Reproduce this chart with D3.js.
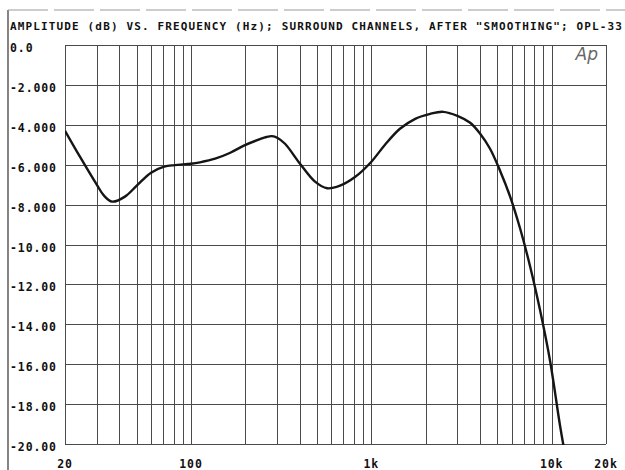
<!DOCTYPE html>
<html>
<head>
<meta charset="utf-8">
<script src="https://cdn.jsdelivr.net/npm/d3@7"></script>
<style>
  html, body { margin: 0; padding: 0; background: #ffffff; }
  svg { display: block; }
  text { font-family: "DejaVu Sans Mono", monospace; font-weight: bold; fill: #111; }
</style>
</head>
<body>
<div id="chart"></div>
<script>
// 频率 (Hz)
const freqs = [20, 24.2, 30, 32.9, 36.5, 43, 50, 60, 71, 81, 100, 112, 136, 165, 199, 241, 262, 281, 302, 332, 402, 487, 568, 670, 811, 1000, 1190, 1440, 1750, 2120, 2500, 3000, 3530, 4010, 4550, 5170, 5880, 6680, 7590, 8620, 9800, 11130, 12010]
// 幅度 (dB)
const levels = [-4.3, -5.6, -7.0, -7.55, -7.85, -7.6, -7.05, -6.4, -6.1, -6.02, -5.95, -5.88, -5.7, -5.4, -5.02, -4.72, -4.61, -4.57, -4.66, -4.95, -5.95, -6.85, -7.18, -7.05, -6.62, -5.85, -5.0, -4.2, -3.7, -3.45, -3.35, -3.55, -3.9, -4.45, -5.2, -6.3, -7.6, -9.2, -11.1, -13.3, -15.85, -19.1, -20.8]

// 纵轴刻度
const yTicks = [0, -2, -4, -6, -8, -10, -12, -14, -16, -18, -20]
const yTickLabels = ['0.0', '-2.000', '-4.000', '-6.000', '-8.000', '-10.00', '-12.00', '-14.00', '-16.00', '-18.00', '-20.00']
// 横轴网格线
const xGrid = [20, 30, 40, 50, 60, 70, 80, 90, 100, 200, 300, 400, 500, 600, 700, 800, 900, 1000, 2000, 3000, 4000, 5000, 6000, 7000, 8000, 9000, 10000, 20000]
const xTicks = [20, 100, 1000, 10000, 20000]
const xTickLabels = ['20', '100', '1k', '10k', '20k']

const title = 'AMPLITUDE (dB) VS. FREQUENCY (Hz); SURROUND CHANNELS, AFTER "SMOOTHING"; OPL-33'

const width = 625
const height = 470
const plot = { left: 65, right: 606, top: 45, bottom: 444 }

const svg = d3.select('#chart').append('svg')
  .attr('width', width)
  .attr('height', height)

const x = d3.scaleLog().domain([20, 20000]).range([plot.left, plot.right])
const y = d3.scaleLinear().domain([-20, 0]).range([plot.bottom, plot.top])

// 外框
svg.append('line')
  .attr('x1', 8).attr('x2', 8).attr('y1', 10).attr('y2', height)
  .style('stroke', '#333').style('stroke-width', 1.2)
svg.append('line')
  .attr('x1', 8).attr('x2', width).attr('y1', 10).attr('y2', 10)
  .style('stroke', '#999').style('stroke-width', 1)
  .style('stroke-dasharray', '40 6')

// 标题
svg.append('text')
  .attr('x', 10)
  .attr('y', 30)
  .attr('textLength', 612)
  .attr('lengthAdjust', 'spacing')
  .style('font-size', '11px')
  .text(title)

// 网格
const grid = svg.append('g').style('stroke', '#4a4a4a').style('stroke-width', 1)
grid.selectAll('line.v').data(xGrid).enter()
  .append('line')
  .classed('v', true)
  .attr('x1', d => Math.round(x(d)) + 0.5)
  .attr('x2', d => Math.round(x(d)) + 0.5)
  .attr('y1', plot.top)
  .attr('y2', plot.bottom)
grid.selectAll('line.h').data(yTicks).enter()
  .append('line')
  .classed('h', true)
  .attr('x1', plot.left)
  .attr('x2', plot.right)
  .attr('y1', d => Math.round(y(d)) + 0.5)
  .attr('y2', d => Math.round(y(d)) + 0.5)

// 纵轴标签
svg.selectAll('text.ylab').data(yTicks).enter()
  .append('text')
  .classed('ylab', true)
  .attr('x', 10)
  .attr('y', d => y(d) + 7)
  .style('font-size', '11.5px')
  .style('letter-spacing', '0.9px')
  .text((d, i) => yTickLabels[i])

// 横轴标签
svg.selectAll('text.xlab').data(xTicks).enter()
  .append('text')
  .classed('xlab', true)
  .attr('x', d => x(d))
  .attr('y', 468)
  .attr('text-anchor', 'middle')
  .style('font-size', '11.5px')
  .style('letter-spacing', '0.9px')
  .text((d, i) => xTickLabels[i])

// Ap 标志
svg.append('text')
  .attr('x', 598)
  .attr('y', 60)
  .attr('text-anchor', 'end')
  .style('font-family', '"DejaVu Sans", sans-serif')
  .style('font-weight', 'normal')
  .style('font-style', 'italic')
  .style('font-size', '17px')
  .style('fill', '#666')
  .text('Ap')

// 曲线
svg.append('clipPath').attr('id', 'clip')
  .append('rect')
  .attr('x', plot.left).attr('y', plot.top)
  .attr('width', plot.right - plot.left)
  .attr('height', plot.bottom - plot.top + 1)

const line = d3.line()
  .x((d, i) => x(freqs[i]))
  .y(d => y(d))
  .curve(d3.curveCatmullRom.alpha(0.5))

svg.append('path')
  .datum(levels)
  .attr('clip-path', 'url(#clip)')
  .attr('d', line)
  .style('fill', 'none')
  .style('stroke', '#151515')
  .style('stroke-width', 2.4)
</script>
</body>
</html>
